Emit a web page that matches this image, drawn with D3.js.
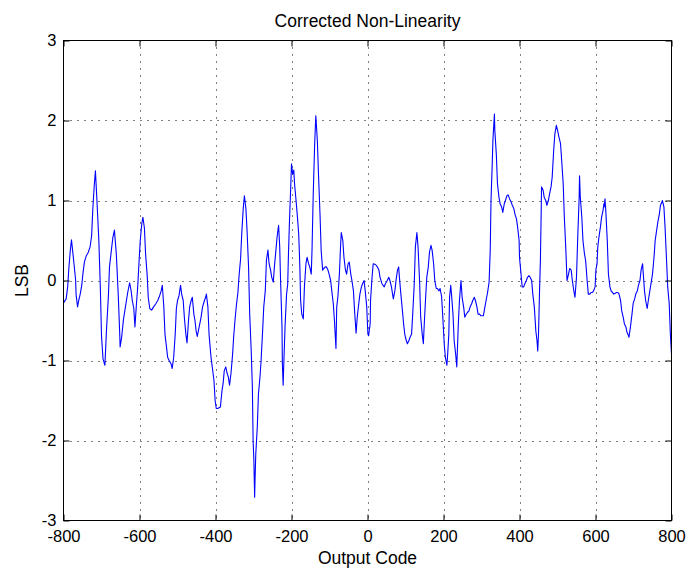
<!DOCTYPE html>
<html>
<head>
<meta charset="utf-8">
<script src="https://cdn.jsdelivr.net/npm/d3@7"></script>
<style>
  html, body { margin: 0; padding: 0; background: #fff; }
  svg text { font-family: "Liberation Sans", Arial, Helvetica, sans-serif; fill: #000; }
</style>
</head>
<body>
<svg id="chart" width="688" height="576"></svg>
<script>
// Corrected INL of the converter, one value (in LSB) per output code
const codes = [
  -800,-793,-789,-786,-782,-779,-775,-772,-768,-767,-763,-760,-756,-752,-749,-745,-740,-735,-730,-726,
  -723,-719,-716,-712,-707,-703,-700,-696,-691,-687,-682,-679,-673,-670,-666,-661,-656,-652,-651,-647,
  -642,-637,-631,-626,-622,-619,-615,-612,-608,-605,-601,-598,-594,-591,-587,-584,-580,-577,-573,-568,
  -563,-557,-552,-547,-543,-540,-536,-533,-529,-526,-522,-517,-514,-510,-506,-503,-500,-496,-492,-489,
  -485,-482,-478,-475,-471,-468,-464,-461,-457,-454,-451,-448,-443,-438,-434,-429,-426,-424,-420,-417,
  -412,-408,-404,-401,-398,-394,-391,-387,-383,-380,-377,-373,-370,-366,-363,-359,-355,-352,-348,-345,
  -341,-338,-334,-331,-327,-324,-320,-317,-313,-310,-306,-303,-301,-299,-297,-296,-294,-290,-287,-283,
  -280,-276,-273,-269,-266,-262,-259,-255,-252,-248,-245,-241,-238,-234,-231,-229,-225,-224,-222,-220,
  -217,-213,-210,-208,-205,-202,-200,-197,-194,-192,-188,-185,-181,-178,-176,-173,-169,-166,-162,-159,
  -155,-152,-148,-146,-143,-139,-136,-132,-129,-125,-122,-118,-115,-111,-108,-104,-101,-97,-94,-90,
  -87,-83,-81,-78,-74,-71,-69,-65,-62,-58,-55,-51,-48,-44,-41,-37,-34,-30,-27,-23,
  -20,-16,-13,-9,-6,-2,1,3,7,8,12,15,21,26,30,33,38,44,47,52,
  56,59,63,66,68,72,75,79,82,84,87,91,95,98,102,105,109,112,116,119,
  123,126,130,133,137,140,144,147,149,153,156,160,163,167,170,174,177,181,184,188,
  191,195,198,202,205,209,211,214,216,219,221,225,228,232,235,239,242,246,249,253,
  256,260,263,267,270,274,277,281,284,288,291,295,298,302,305,309,312,316,320,323,
  325,328,330,334,335,339,342,346,349,353,356,360,363,367,370,374,378,381,385,388,
  392,395,399,400,404,407,411,414,418,421,425,428,432,435,439,443,446,448,450,453,
  455,457,458,462,465,469,472,476,479,483,486,490,493,497,500,504,508,511,515,518,
  522,525,529,532,536,539,543,546,550,553,557,558,560,564,567,571,574,578,581,585,
  588,592,595,599,601,604,606,609,613,616,620,622,623,625,627,631,634,638,641,645,
  648,652,655,659,662,666,669,673,676,680,683,687,688,692,696,699,703,706,710,713,
  717,720,724,725,729,732,736,739,743,746,750,754,757,761,764,768,771,775,776,780,
  783,787,790,794,797,800
];
const lsb = [
  -0.28,-0.23,-0.08,0.15,0.38,0.51,0.33,0.19,0.00,-0.17,-0.33,-0.25,-0.17,-0.06,0.08,0.23,0.31,0.35,0.42,0.56,
  0.88,1.19,1.37,1.00,0.50,-0.10,-0.69,-0.98,-1.06,-0.63,-0.21,0.17,0.42,0.54,0.63,0.33,-0.17,-0.67,-0.83,-0.71,
  -0.48,-0.33,-0.15,-0.03,-0.13,-0.25,-0.35,-0.58,-0.29,-0.10,0.25,0.50,0.71,0.79,0.65,0.33,0.08,-0.21,-0.35,-0.37,
  -0.33,-0.29,-0.25,-0.19,-0.13,-0.06,-0.33,-0.67,-0.83,-0.96,-1.00,-1.04,-1.10,-0.96,-0.67,-0.35,-0.25,-0.19,-0.06,-0.17,
  -0.25,-0.46,-0.67,-0.78,-0.50,-0.33,-0.25,-0.21,-0.42,-0.50,-0.63,-0.70,-0.58,-0.46,-0.33,-0.25,-0.21,-0.17,-0.33,-0.67,
  -0.95,-1.10,-1.25,-1.50,-1.60,-1.60,-1.59,-1.58,-1.38,-1.29,-1.13,-1.08,-1.15,-1.21,-1.31,-1.15,-0.92,-0.69,-0.46,-0.31,
  -0.15,0.06,0.27,0.58,0.90,1.06,0.90,0.63,0.17,-0.42,-0.88,-1.33,-2.00,-2.25,-2.71,-2.50,-2.17,-1.83,-1.42,-1.21,
  -1.00,-0.63,-0.33,-0.13,0.25,0.38,0.21,0.13,0.04,-0.02,0.17,0.38,0.54,0.69,0.42,0.04,-0.58,-1.04,-1.31,-1.00,
  -0.58,-0.17,-0.05,0.33,0.79,1.17,1.46,1.33,1.38,1.21,1.00,0.83,0.58,0.17,-0.25,-0.42,-0.48,-0.08,0.21,0.29,
  0.21,0.17,0.08,0.38,1.04,1.71,2.06,1.75,1.33,0.83,0.38,0.13,0.15,0.17,0.17,0.13,0.08,0.00,-0.13,-0.29,
  -0.50,-0.85,-0.33,-0.21,0.08,0.42,0.60,0.50,0.29,0.13,0.08,0.21,0.23,0.08,0.00,-0.13,-0.38,-0.66,-0.46,-0.29,
  -0.17,-0.08,-0.04,0.00,-0.13,-0.33,-0.67,-0.69,-0.54,-0.25,0.04,0.21,0.20,0.17,0.13,0.04,-0.04,-0.08,-0.04,0.00,
  0.04,0.00,-0.08,-0.17,-0.23,-0.13,0.00,0.13,0.17,0.04,-0.13,-0.33,-0.54,-0.67,-0.75,-0.79,-0.75,-0.71,-0.67,-0.42,
  -0.04,0.42,0.60,0.42,0.00,-0.46,-0.67,-0.79,-0.58,-0.21,0.04,0.17,0.35,0.44,0.38,0.21,0.00,-0.10,-0.10,-0.13,
  -0.10,-0.20,-0.44,-0.80,-0.96,-1.06,-0.92,-0.67,-0.21,-0.06,-0.17,-0.42,-0.75,-0.92,-1.08,-0.54,-0.25,0.00,-0.21,-0.33,
  -0.46,-0.42,-0.40,-0.38,-0.33,-0.29,-0.25,-0.21,-0.25,-0.33,-0.42,-0.42,-0.44,-0.44,-0.44,-0.33,-0.25,-0.15,-0.02,0.38,
  1.00,1.42,1.75,2.08,1.88,1.58,1.21,1.04,0.96,0.92,0.85,0.96,1.00,1.06,1.07,1.02,0.98,0.94,0.90,0.83,
  0.77,0.67,0.50,0.29,0.08,-0.08,-0.08,-0.04,0.00,0.04,0.06,0.04,0.00,-0.17,-0.33,-0.63,-0.75,-0.88,-0.67,-0.08,
  0.25,0.83,1.17,1.13,1.04,1.00,0.94,1.00,1.08,1.17,1.29,1.63,1.83,1.94,1.88,1.79,1.71,1.50,1.21,0.79,
  0.38,0.00,0.08,0.15,0.13,0.00,-0.13,-0.21,0.04,0.50,1.04,1.31,1.04,0.79,0.50,0.33,0.25,0.00,-0.17,-0.17,
  -0.15,-0.15,-0.13,-0.08,0.13,0.21,0.42,0.54,0.67,0.79,0.88,0.96,0.92,1.02,0.88,0.50,0.08,-0.08,-0.13,-0.15,
  -0.17,-0.16,-0.15,-0.15,-0.17,-0.25,-0.38,-0.46,-0.54,-0.58,-0.65,-0.69,-0.71,-0.58,-0.42,-0.29,-0.23,-0.17,-0.13,-0.06,
  0.00,0.13,0.21,0.13,-0.13,-0.25,-0.35,-0.25,-0.13,-0.04,0.08,0.29,0.50,0.63,0.73,0.83,0.94,0.98,1.00,0.92,
  0.67,0.25,-0.08,-0.29,-0.67,-0.92
];
const xTicks = [-800, -600, -400, -200, 0, 200, 400, 600, 800];
const yTicks = [-3, -2, -1, 0, 1, 2, 3];

const titleText = "Corrected Non-Linearity";
const xLabelText = "Output Code";
const yLabelText = "LSB";

const svg = d3.select("#chart");
const plotL = 63.5, plotR = 671.5, plotT = 40.5, plotB = 520.5;

const x = d3.scaleLinear().domain([-800, 800]).range([plotL, plotR]);
const y = d3.scaleLinear().domain([-3, 3]).range([plotB, plotT]);

// plain ASCII hyphen for negative tick labels
const fmt = d => String(d);

// dotted grid
const grid = svg.append("g").attr("class", "grid");
grid.selectAll("line.gx").data(xTicks.slice(1, -1)).join("line")
  .attr("class", "gx")
  .attr("x1", d => Math.round(x(d)) + 0.5).attr("x2", d => Math.round(x(d)) + 0.5)
  .attr("y1", plotT).attr("y2", plotB);
grid.selectAll("line.gy").data(yTicks.slice(1, -1)).join("line")
  .attr("class", "gy")
  .attr("x1", plotL).attr("x2", plotR)
  .attr("y1", d => Math.round(y(d)) + 0.5).attr("y2", d => Math.round(y(d)) + 0.5);
grid.selectAll("line")
  .attr("stroke", "#000").attr("stroke-width", 1)
  .attr("stroke-dasharray", "1,6");

// data trace
const pts = codes.map((c, i) => [c, lsb[i]]);
const line = d3.line().x(d => x(d[0])).y(d => y(d[1]));
svg.append("path")
  .datum(pts)
  .attr("d", line)
  .attr("fill", "none")
  .attr("stroke", "#0000ff")
  .attr("stroke-width", 1.1)
  .attr("stroke-linejoin", "round");

// axes with inward ticks on all four sides
const tickLen = 6;
const axB = svg.append("g").attr("transform", `translate(0,${plotB})`)
  .call(d3.axisBottom(x).tickValues(xTicks).tickFormat(fmt)
    .tickSizeInner(-tickLen).tickSizeOuter(0).tickPadding(10));
const axT = svg.append("g").attr("transform", `translate(0,${plotT})`)
  .call(d3.axisTop(x).tickValues(xTicks).tickFormat("")
    .tickSizeInner(-tickLen).tickSizeOuter(0));
const axL = svg.append("g").attr("transform", `translate(${plotL},0)`)
  .call(d3.axisLeft(y).tickValues(yTicks).tickFormat(fmt)
    .tickSizeInner(-tickLen).tickSizeOuter(0).tickPadding(7));
const axR = svg.append("g").attr("transform", `translate(${plotR},0)`)
  .call(d3.axisRight(y).tickValues(yTicks).tickFormat("")
    .tickSizeInner(-tickLen).tickSizeOuter(0));

[axB, axT, axL, axR].forEach(g => {
  g.select(".domain").remove();
  g.selectAll(".tick line").attr("stroke", "#000");
  g.selectAll("text").attr("font-size", 16.5)
    .attr("font-family", "'Liberation Sans', Arial, sans-serif").attr("fill", "#000");
});
axL.selectAll("text").attr("dy", "0.28em");

// plot frame
svg.append("rect")
  .attr("x", plotL).attr("y", plotT)
  .attr("width", plotR - plotL).attr("height", plotB - plotT)
  .attr("fill", "none").attr("stroke", "#000").attr("stroke-width", 1);

// title and axis labels
svg.append("text")
  .attr("x", (plotL + plotR) / 2).attr("y", 27)
  .attr("text-anchor", "middle").attr("font-size", 17.5)
  .text(titleText);
svg.append("text")
  .attr("x", (plotL + plotR) / 2).attr("y", 564)
  .attr("text-anchor", "middle").attr("font-size", 17.5)
  .text(xLabelText);
svg.append("text")
  .attr("transform", `translate(28,${y(0)}) rotate(-90)`)
  .attr("text-anchor", "middle").attr("font-size", 17.5)
  .text(yLabelText);
</script>
</body>
</html>
